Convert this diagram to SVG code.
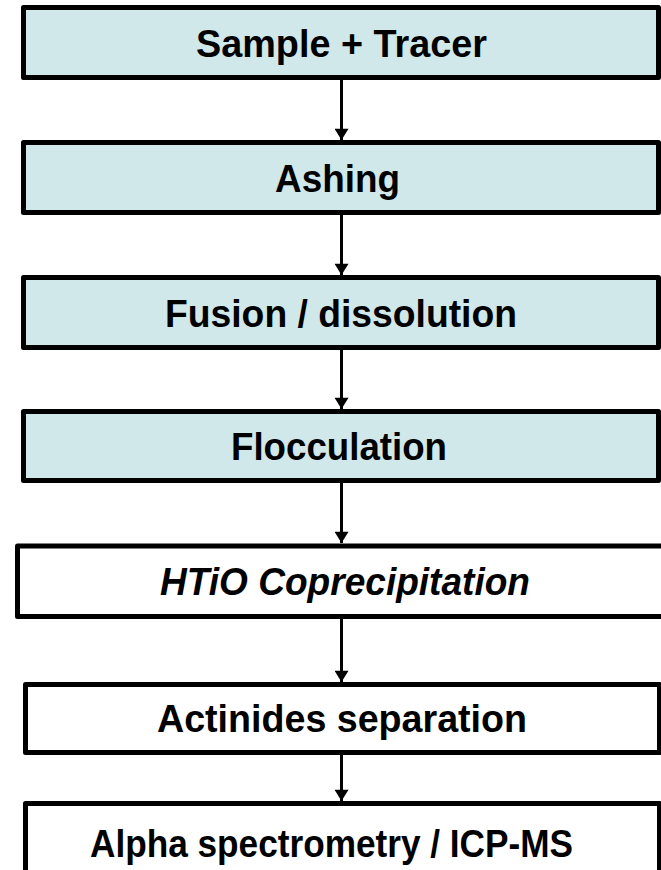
<svg xmlns="http://www.w3.org/2000/svg" width="661" height="870" viewBox="0 0 661 870">
<defs>
<style>
.box{stroke:#000;stroke-width:5;stroke-linejoin:round}
.teal{fill:#D0E8E9}
.white{fill:#FFFFFF}
.t{font-family:"Liberation Sans",Arial,sans-serif;font-weight:bold;font-size:39px;text-anchor:middle;fill:#000}
.it{font-style:italic}
.conn{stroke:#000;stroke-width:3;fill:none}
</style>
<marker id="ah" markerUnits="userSpaceOnUse" markerWidth="16" markerHeight="14" refX="13" refY="8" orient="auto" viewBox="0 0 14 16">
<path d="M0,0 L13,8 L0,16 Z" fill="#000"/>
</marker>
</defs>
<rect width="661" height="870" fill="#fff"/>
<g id="connectors">
<line class="conn" x1="341.5" y1="80" x2="341.5" y2="140" marker-end="url(#ah)"/>
<line class="conn" x1="341.5" y1="215" x2="341.5" y2="275" marker-end="url(#ah)"/>
<line class="conn" x1="341.5" y1="350" x2="341.5" y2="409" marker-end="url(#ah)"/>
<line class="conn" x1="341.5" y1="483" x2="341.5" y2="543" marker-end="url(#ah)"/>
<line class="conn" x1="341.5" y1="619" x2="341.5" y2="682" marker-end="url(#ah)"/>
<line class="conn" x1="341.5" y1="755" x2="341.5" y2="801" marker-end="url(#ah)"/>
</g>
<g id="n1"><rect class="box teal" x="23.5" y="7.5" width="635" height="70"/><text class="t" x="341.5" y="57" textLength="291" lengthAdjust="spacingAndGlyphs">Sample + Tracer</text></g>
<g id="n2"><rect class="box teal" x="23.5" y="142.5" width="635" height="70"/><text class="t" x="337.5" y="192" textLength="125" lengthAdjust="spacingAndGlyphs">Ashing</text></g>
<g id="n3"><rect class="box teal" x="23.5" y="277.5" width="635" height="70"/><text class="t" x="341" y="327" textLength="352" lengthAdjust="spacingAndGlyphs">Fusion / dissolution</text></g>
<g id="n4"><rect class="box teal" x="23.5" y="411.5" width="635" height="69"/><text class="t" x="339" y="460" textLength="216" lengthAdjust="spacingAndGlyphs">Flocculation</text></g>
<g id="n5"><rect class="box white" x="17.5" y="546" width="650" height="70.5"/><text class="t it" x="345" y="595" textLength="370" lengthAdjust="spacingAndGlyphs">HTiO Coprecipitation</text></g>
<g id="n6"><rect class="box white" x="25.5" y="684.5" width="634" height="68"/><text class="t" x="342" y="732" textLength="370" lengthAdjust="spacingAndGlyphs">Actinides separation</text></g>
<g id="n7"><rect class="box white" x="25.5" y="803.5" width="634" height="80"/><text class="t" x="331.5" y="857" textLength="483" lengthAdjust="spacingAndGlyphs">Alpha spectrometry / ICP-MS</text></g>
</svg>
